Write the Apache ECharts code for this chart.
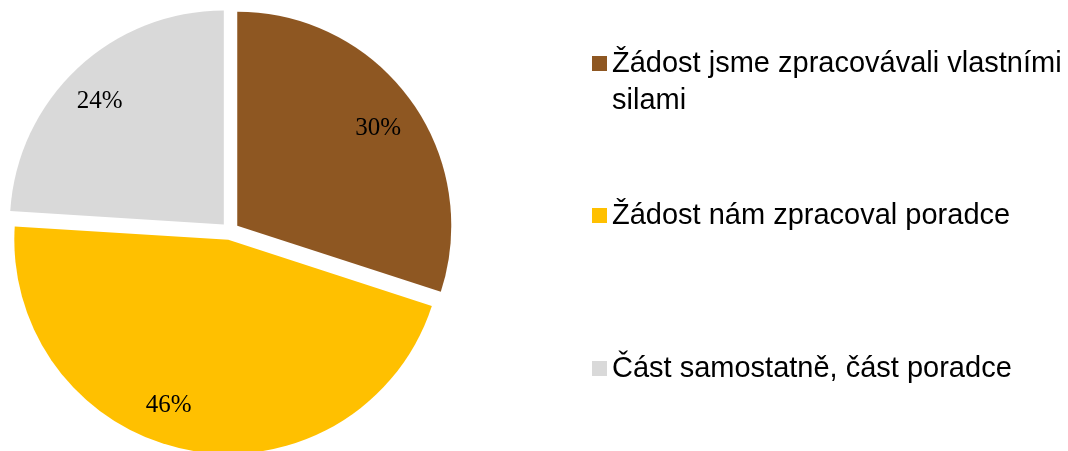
<!DOCTYPE html>
<html>
<head>
<meta charset="utf-8">
<script src="https://cdn.jsdelivr.net/npm/echarts@6/dist/echarts.min.js"></script>
<style>
    html, body { margin: 0; padding: 0; background: #fff; }
    #chart { width: 1068px; height: 451px; }
</style>
</head>
<body>
<div id="chart"></div>
<script>
// data
var categories = ['Žádost jsme zpracovávali vlastními silami', 'Žádost nám zpracoval poradce', 'Část samostatně, část poradce'];
var values = [30, 46, 24];
var colors = ['#8E5722', '#FFC000', '#D9D9D9'];

var chart = echarts.init(document.getElementById('chart'));

var pieData = [];
var labelData = [];
for (var i = 0; i < categories.length; i++) {
    pieData.push({ name: categories[i], value: values[i], selected: true, itemStyle: { color: colors[i] } });
    labelData.push({ name: categories[i], value: values[i], selected: true });
}

// legend: each item placed separately, like in the original
var legendText = {
    fontFamily: 'Liberation Sans, Arial, sans-serif',
    fontSize: 29,
    color: '#000',
    lineHeight: 37
};
function legendFor(idx, top) {
    return {
        orient: 'vertical',
        left: 592,
        top: top,
        padding: 0,
        itemWidth: 15,
        itemHeight: 15,
        icon: 'rect',
        selectedMode: false,
        data: [categories[idx]],
        textStyle: legendText
    };
}

var firstLegend = legendFor(0, 8);
// last word on its own line; empty line on top keeps the icon next to line one
firstLegend.formatter = function (name) {
    return '\n' + name.replace(/ (\S+)$/, '\n$1');
};

var option = {
    backgroundColor: '#fff',
    animation: false,
    legend: [
        firstLegend,
        legendFor(1, 197),
        legendFor(2, 350)
    ],
    series: [
        {
            type: 'pie',
            center: [230, 231],
            radius: [0, 214],
            startAngle: 90,
            selectedMode: 'multiple',
            selectedOffset: 9,
            silent: true,
            emphasis: { disabled: true },
            label: { show: false },
            labelLine: { show: false },
            data: pieData
        },
        {
            // transparent ring only used to put the % labels further out
            type: 'pie',
            center: [230, 231],
            radius: [128, 214],
            startAngle: 90,
            selectedMode: 'multiple',
            selectedOffset: 9,
            silent: true,
            emphasis: { disabled: true },
            itemStyle: { color: 'rgba(0,0,0,0)' },
            label: {
                show: true,
                position: 'inside',
                formatter: '{d}%',
                fontFamily: 'Liberation Serif, Times New Roman, serif',
                fontSize: 25,
                color: '#000'
            },
            labelLine: { show: false },
            labelLayout: function (p) {
                if (p.dataIndex === 0) {
                    return { dy: 5 };
                }
                if (p.dataIndex === 1) {
                    return { dx: -27, dy: -5 };
                }
                return { dx: -5, dy: 4 };
            },
            data: labelData
        }
    ]
};
chart.setOption(option);
</script>
</body>
</html>
